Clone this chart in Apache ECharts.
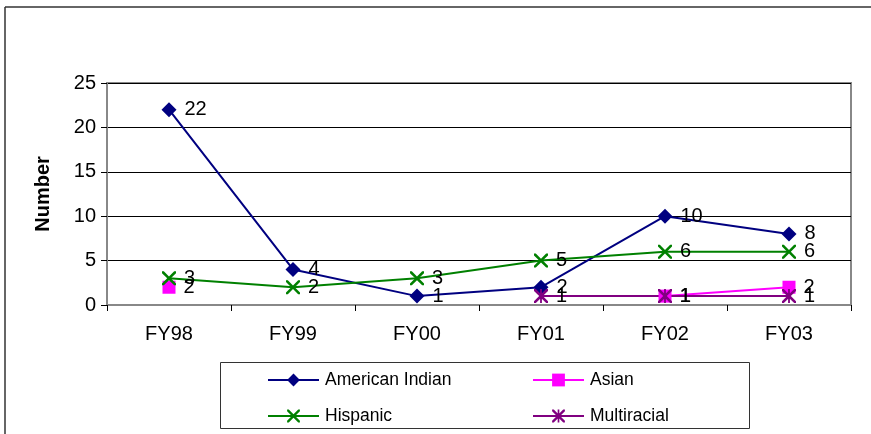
<!DOCTYPE html>
<html><head><meta charset="utf-8">
<script src="https://cdn.jsdelivr.net/npm/echarts@6/dist/echarts.min.js"></script>
<style>html,body{margin:0;padding:0;background:#fff}#c{width:871px;height:434px}</style>
</head><body><div id="c"></div>
<script>
const categories = ['FY98','FY99','FY00','FY01','FY02','FY03'];
const americanIndian = [22, 4, 1, 2, 10, 8];
const asian = [2, null, null, null, 1, 2];
const hispanic = [3, 2, 3, 5, 6, 6];
const multiracial = [null, null, null, 1, 1, 1];
const yTicks = [0, 5, 10, 15, 20, 25];

const FONT = '"Liberation Sans", Arial, sans-serif';
const xPath = 'path://M0,0 L1.3,0 L5,3.7 L8.7,0 L10,0 L10,1.3 L6.3,5 L10,8.7 L10,10 L8.7,10 L5,6.3 L1.3,10 L0,10 L0,8.7 L3.7,5 L0,1.3 Z';
const starPath = 'path://M0,0 L1.3,0 L5,3.7 L8.7,0 L10,0 L10,1.3 L6.3,5 L10,8.7 L10,10 L8.7,10 L5,6.3 L1.3,10 L0,10 L0,8.7 L3.7,5 L0,1.3 Z M4.35,0 L5.65,0 L5.65,10 L4.35,10 Z';

function mkSeries(name, data, color, symbol, size) {
  return {
    name, type: 'line', data, connectNulls: false,
    symbol, symbolSize: size, showAllSymbol: true,
    lineStyle: { color, width: 2 },
    itemStyle: { color },
    label: { show: true, position: 'right', distance: 8, color: '#000', fontSize: 20, fontFamily: FONT },
    emphasis: { disabled: true },
    animation: false
  };
}

const legendBase = { orient: 'horizontal', itemWidth: 51, itemHeight: 16, itemGap: 5,
  lineStyle: { width: 2 },
  textStyle: { fontSize: 17.5, fontFamily: FONT, color: '#000', padding: [0, 0, 0, 1] }, selectedMode: false };

const chart = echarts.init(document.getElementById('c'), null, { renderer: 'canvas' });
chart.setOption({
  animation: false,
  backgroundColor: '#fff',
  grid: { left: 107, right: 20, top: 83, bottom: 129, show: true, borderColor: '#888', borderWidth: 2 },
  xAxis: {
    type: 'category', data: categories, boundaryGap: true,
    axisLine: { lineStyle: { color: '#888', width: 2 } },
    axisTick: { show: true, length: 6, lineStyle: { color: '#000' } },
    axisLabel: { fontSize: 20, fontFamily: FONT, color: '#000', margin: 19 }
  },
  yAxis: {
    type: 'value', min: 0, max: 25, interval: 5,
    name: 'Number', nameLocation: 'middle', nameGap: 54,
    nameTextStyle: { fontSize: 20, fontWeight: 'bold', fontFamily: FONT, color: '#000' },
    axisLine: { show: true, lineStyle: { color: '#888', width: 2 } },
    axisTick: { show: true, length: 6, lineStyle: { color: '#000' } },
    axisLabel: { fontSize: 20, fontFamily: FONT, color: '#000', margin: 11,
      formatter: v => yTicks.includes(v) ? String(v) : '' },
    splitLine: { show: true, lineStyle: { color: '#000', width: 1 } }
  },
  legend: [
    Object.assign({}, legendBase, { data: ['American Indian'], left: 262, top: 366 }),
    Object.assign({}, legendBase, { data: ['Asian'], left: 527, top: 366 }),
    Object.assign({}, legendBase, { data: ['Hispanic'], left: 262, top: 402 }),
    Object.assign({}, legendBase, { data: ['Multiracial'], left: 527, top: 402 })
  ],
  graphic: [
    { type: 'line', shape: { x1: 5, y1: 7, x2: 871, y2: 7 }, style: { stroke: '#333', lineWidth: 1.5 } },
    { type: 'line', shape: { x1: 5, y1: 7, x2: 5, y2: 434 }, style: { stroke: '#333', lineWidth: 1.5 } },
    { type: 'rect', shape: { x: 220.5, y: 362.5, width: 529, height: 66 }, style: { fill: 'none', stroke: '#333', lineWidth: 1 }, z: -1 }
  ],
  series: [
    mkSeries('American Indian', americanIndian, '#000080', 'diamond', 15),
    mkSeries('Asian', asian, '#FF00FF', 'rect', 13),
    mkSeries('Hispanic', hispanic, '#008000', xPath, 14),
    mkSeries('Multiracial', multiracial, '#800080', starPath, 14)
  ]
});
</script></body></html>
